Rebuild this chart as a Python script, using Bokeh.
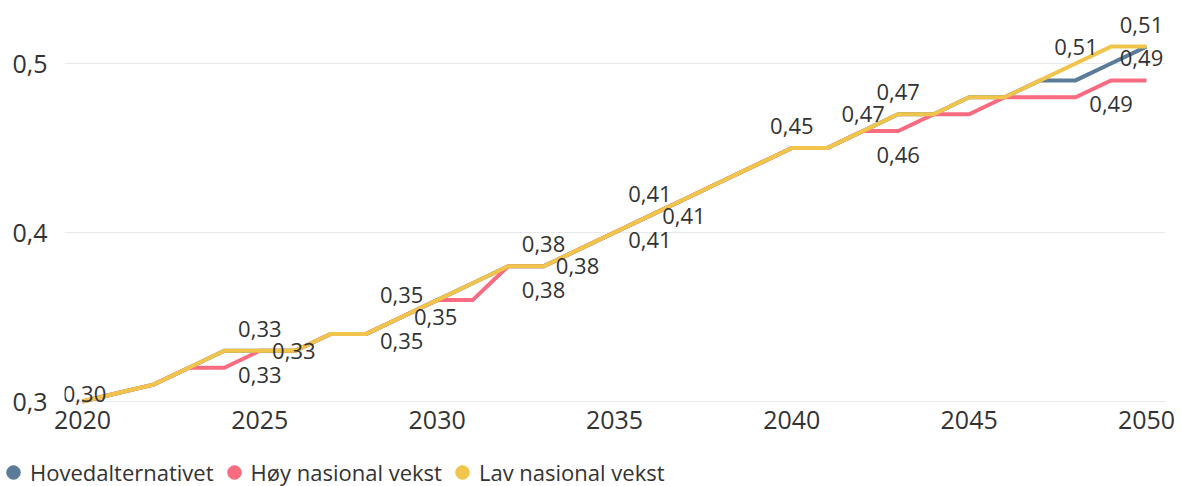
from bokeh.plotting import figure
from bokeh.models import (Range1d, FixedTicker, CustomJSTickFormatter, Legend,
                          LegendItem, ColumnDataSource)
from bokeh.core.properties import value
from bokeh.embed import file_html
from bokeh.resources import INLINE

# ---------------- data ----------------
years = list(range(2020, 2051))

hoved = [0.30, 0.305, 0.31, 0.32, 0.33, 0.33, 0.33, 0.34, 0.34, 0.35,
         0.36, 0.37, 0.38, 0.38, 0.39, 0.40, 0.41, 0.42, 0.43, 0.44,
         0.45, 0.45, 0.46, 0.47, 0.47, 0.48, 0.48, 0.49, 0.49, 0.50, 0.51]

hoy = [0.30, 0.305, 0.31, 0.32, 0.32, 0.33, 0.33, 0.34, 0.34, 0.35,
       0.36, 0.36, 0.38, 0.38, 0.39, 0.40, 0.41, 0.42, 0.43, 0.44,
       0.45, 0.45, 0.46, 0.46, 0.47, 0.47, 0.48, 0.48, 0.48, 0.49, 0.49]

lav = [0.30, 0.305, 0.31, 0.32, 0.33, 0.33, 0.33, 0.34, 0.34, 0.35,
       0.36, 0.37, 0.38, 0.38, 0.39, 0.40, 0.41, 0.42, 0.43, 0.44,
       0.45, 0.45, 0.46, 0.47, 0.47, 0.48, 0.48, 0.49, 0.50, 0.51, 0.51]

series_names = ["Hovedalternativet", "Høy nasional vekst", "Lav nasional vekst"]

# years that carry a data label, per series
hoved_label_years = [2020, 2025, 2029, 2033, 2036, 2043, 2050]
hoy_label_years = [2025, 2029, 2033, 2036, 2043, 2049, 2050]
lav_label_years = [2025, 2029, 2033, 2036, 2040, 2043, 2049]

x_ticks = [2020, 2025, 2030, 2035, 2040, 2045, 2050]
y_ticks = [0.3, 0.4, 0.5]

# ---------------- style ----------------
colors = ["#5b7b99", "#f86b80", "#f1c54b"]
FONT = "Open Sans"
TXT = "#333333"

# label placement (style): per series, per labelled year
OFF = {"above": (0, -22), "above_end": (-5, -22), "below": (0, 24), "right": (34, 0),
       "left": (-35, 0), "on": (2, -8)}
hoved_label_pos = ["on", "right", "right", "right", "right", "left", "above_end"]
hoy_label_pos = ["below", "below", "below", "below", "below", "below", "above_end"]
lav_label_pos = ["above", "above", "above", "above", "above", "above", "left"]

# ---------------- main figure ----------------
W, H_MAIN, H_LEG = 1181, 445, 41
FRAME_L, FRAME_R, FRAME_B = 64, 1165, 408
X_2020, X_2050 = 82, 1146
Y_03, Y_05 = 401, 63

px_per_year = (X_2050 - X_2020) / 30.0
x0 = 2020 - (X_2020 - FRAME_L) / px_per_year
x1 = 2050 + (FRAME_R - X_2050) / px_per_year
px_per_unit = (Y_03 - Y_05) / 0.2
y0 = 0.3 - (FRAME_B - Y_03) / px_per_unit
y1 = y0 + FRAME_B / px_per_unit

p = figure(width=W, height=H_MAIN, x_range=Range1d(x0, x1), y_range=Range1d(y0, y1),
           output_backend="svg", toolbar_location=None,
           min_border_left=FRAME_L, min_border_right=W - FRAME_R,
           min_border_top=0, min_border_bottom=H_MAIN - FRAME_B)
p.outline_line_color = None
p.background_fill_color = "white"
p.border_fill_color = "white"

p.xgrid.visible = False
p.ygrid.grid_line_color = "#e8e9ed"
p.ygrid.grid_line_width = 1

for ax in (p.xaxis[0], p.yaxis[0]):
    ax.axis_line_color = None
    ax.major_tick_line_color = None
    ax.minor_tick_line_color = None
    ax.major_tick_out = 0
    ax.major_tick_in = 0
    ax.major_label_text_font = FONT
    ax.major_label_text_font_size = "25px"
    ax.major_label_text_color = TXT

p.xaxis.ticker = FixedTicker(ticks=x_ticks)
p.xaxis.major_label_standoff = 2
p.yaxis.ticker = FixedTicker(ticks=y_ticks)
p.yaxis.major_label_standoff = 17
p.yaxis.formatter = CustomJSTickFormatter(code="return tick.toFixed(1).replace('.', ',');")

all_series = [hoved, hoy, lav]
label_years = [hoved_label_years, hoy_label_years, lav_label_years]
label_pos = [hoved_label_pos, hoy_label_pos, lav_label_pos]

# lines (Lav drawn on top)
for vals, col in zip(all_series, colors):
    p.line(years, vals, line_color=col, line_width=4, line_join="miter")

# data labels
for vals, ly, lp in zip(all_series, label_years, label_pos):
    xs, ys, ts, dx, dy = [], [], [], [], []
    for yr, pos in zip(ly, lp):
        v = vals[years.index(yr)]
        xs.append(yr)
        ys.append(v)
        ts.append(f"{v:.2f}".replace(".", ","))
        dx.append(OFF[pos][0])
        dy.append(OFF[pos][1])
    src = ColumnDataSource(dict(x=xs, y=ys, text=ts, dx=dx, dy=dy))
    p.text(x="x", y="y", text="text", x_offset="dx", y_offset="dy", source=src,
           text_font=value(FONT), text_font_size="22px", text_color=TXT,
           text_align="center", text_baseline="middle")

# ---------------- legend figure (separate root, no frame alignment) ----------------
lf = figure(width=W, height=H_LEG, x_range=Range1d(0, 1), y_range=Range1d(0, 1),
            output_backend="svg", toolbar_location=None,
            x_axis_type=None, y_axis_type=None,
            min_border_left=0, min_border_right=0, min_border_top=0, min_border_bottom=0)
lf.outline_line_color = None
lf.grid.visible = False
lf.background_fill_color = "white"
lf.border_fill_color = "white"

items = []
for name, col in zip(series_names, colors):
    # a marker far outside the visible range, used only as the legend swatch
    r = lf.scatter(x=[-10], y=[-10], marker="circle", size=14, fill_color=col, line_color=col)
    items.append(LegendItem(label=name, renderers=[r]))

GLYPH = 34
leg_cx, leg_cy = 13, 472 - H_MAIN   # centre of the first legend marker (local px)
legend = Legend(items=items, orientation="horizontal",
                location=(leg_cx - GLYPH / 2, H_LEG - (leg_cy + GLYPH / 2)),
                glyph_width=GLYPH, glyph_height=GLYPH, label_standoff=0, spacing=3,
                padding=0, margin=0, label_text_font=FONT, label_text_font_size="22px",
                label_text_color=TXT, background_fill_alpha=0, border_line_alpha=0)
lf.add_layout(legend, "center")

open("out.html", "w").write(file_html([p, lf], INLINE))
